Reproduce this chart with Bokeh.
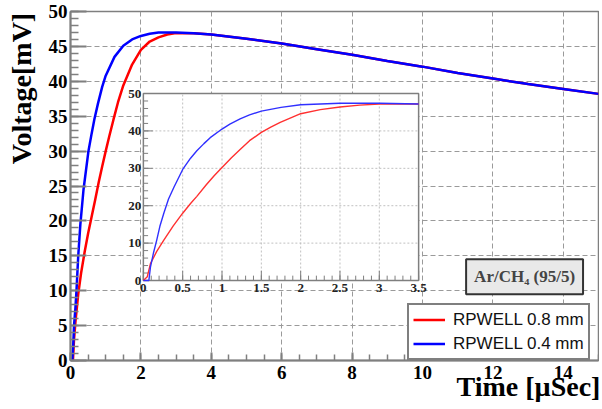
import numpy as np
from bokeh.plotting import figure
from bokeh.models import Range1d, Label, Legend, LegendItem, FixedTicker, LinearAxis
from bokeh.core.properties import value
from bokeh.embed import file_html
from bokeh.resources import INLINE

# ---------------- data ----------------
t_red = [0, 0.07, 0.10, 0.14, 0.22, 0.30, 0.40, 0.50, 0.60, 0.70, 0.80, 0.90,
         1.0, 1.1, 1.22, 1.35, 1.5, 1.75, 2.0, 2.25, 2.5, 2.75, 3.0, 3.5, 4, 5, 6, 7, 8, 9,
         10, 11, 12, 13, 14, 15]
v_red = [0, 0, 3, 5.5, 9.5, 12.5, 15.5, 18.2, 20.6, 23, 25.5, 27.8,
         30, 32.1, 34.5, 37, 39.4, 42.4, 44.5, 45.7, 46.3, 46.7, 46.9, 46.9, 46.7, 46.1, 45.4,
         44.6, 43.8, 42.9, 42.1, 41.2, 40.4, 39.6, 38.9, 38.2]

t_blue = [0, 0.05, 0.08, 0.10, 0.14, 0.17, 0.22, 0.28, 0.37, 0.51, 0.60, 0.68, 0.78, 0.90,
          1.0, 1.25, 1.5, 1.75, 2.0, 2.25, 2.5, 2.75, 3.0, 3.5, 4, 5, 6, 7, 8, 9,
          10, 11, 12, 13, 14, 15]
v_blue = [0, 0, 2.5, 5, 7.5, 10, 15, 19.5, 24.5, 30, 32.5, 34.6, 36.8, 39.2,
          40.8, 43.5, 45.1, 46.0, 46.5, 46.8, 47.0, 47.0, 47.0, 46.9, 46.7, 46.1, 45.4,
          44.6, 43.8, 42.9, 42.1, 41.2, 40.4, 39.6, 38.9, 38.2]

# inset (zoom on first 3.5 us)
ti_blue = [0, 0.07, 0.09, 0.13, 0.17, 0.21, 0.26, 0.32, 0.39, 0.5, 0.6, 0.68, 0.77, 0.85,
           1.0, 1.1, 1.23, 1.35, 1.5, 1.75, 2.0, 2.25, 2.5, 3.0, 3.5]
vi_blue = [0, 0, 3.6, 7.5, 10.8, 14.5, 18, 21.8, 25, 29.7, 32.7, 34.7, 36.6, 38.2,
           40.5, 41.8, 43.2, 44.3, 45.3, 46.3, 47.0, 47.2, 47.4, 47.4, 47.2]
ti_red = [0, 0.05, 0.09, 0.17, 0.26, 0.38, 0.5, 0.6, 0.68, 0.8, 0.9, 1.0, 1.12, 1.23,
          1.35, 1.5, 1.62, 1.74, 2.0, 2.25, 2.5, 2.75, 3.0, 3.5]
vi_red = [0, 1, 4.5, 7.8, 10.8, 14.6, 18, 20.6, 22.5, 25.6, 28, 30.2, 32.8, 35,
          37.4, 39.6, 41.0, 42.3, 44.6, 45.7, 46.4, 46.9, 47.2, 47.2]

x_ticks = [0, 2, 4, 6, 8, 10, 12, 14]
y_ticks = [0, 5, 10, 15, 20, 25, 30, 35, 40, 45, 50]
xi_ticks = [0, 0.5, 1, 1.5, 2, 2.5, 3, 3.5]
xi_labels = ["0", "0.5", "1", "1.5", "2", "2.5", "3", "3.5"]
yi_ticks = [0, 10, 20, 30, 40, 50]
yi_labels = ["0", "10", "20", "30", "40", "50"]

labels = ["RPWELL 0.8 mm", "RPWELL 0.4 mm"]
gas_text = "Ar/CH\u2084 (95/5)"
x_title = "Time [\u00b5Sec]"
y_title = "Voltage[mV]"

SERIF = "Liberation Serif"
SANS = "Liberation Sans"
AXIS_GREY = "#7f7f7f"
GRID_GREY = "#9a9a9a"
NBSP = "\u00a0"

# ---------------- main figure ----------------
p = figure(width=599, height=408, x_range=Range1d(0, 15), y_range=Range1d(0, 50),
           output_backend="svg", toolbar_location=None,
           min_border_left=70, min_border_right=1, min_border_top=11, min_border_bottom=48)
p.outline_line_color = AXIS_GREY
p.outline_line_width = 1.5
p.background_fill_color = "white"
p.border_fill_color = "white"

p.xaxis.ticker = FixedTicker(ticks=x_ticks, minor_ticks=list(np.arange(0, 15.01, 0.5)))
p.yaxis.ticker = FixedTicker(ticks=y_ticks, minor_ticks=list(np.arange(0, 50.01, 1.0)))
for ax in (p.xaxis[0], p.yaxis[0]):
    ax.axis_line_color = AXIS_GREY
    ax.axis_line_width = 2
    ax.major_tick_line_color = AXIS_GREY
    ax.minor_tick_line_color = AXIS_GREY
    ax.major_tick_line_width = 2
    ax.minor_tick_line_width = 1.5
    ax.major_tick_out = 0
    ax.minor_tick_out = 0
    ax.major_label_text_font = SERIF
    ax.major_label_text_font_style = "bold"
    ax.major_label_text_font_size = "19px"
    ax.major_label_text_color = "black"
p.yaxis.major_tick_in = 16
p.yaxis.minor_tick_in = 8
p.xaxis.major_tick_in = 8
p.xaxis.minor_tick_in = 6
p.yaxis.major_label_standoff = 3
p.xaxis.major_label_standoff = 5


# title-only axes; label centred on the axis end, padded with no-break spaces
# so that the visible text ends at the end of the axis (ROOT-style titles)
def title_axis(text, size, standoff, pad):
    return LinearAxis(ticker=FixedTicker(ticks=[]),
                      axis_line_color=None, major_tick_line_color=None,
                      minor_tick_line_color=None, major_tick_out=0, minor_tick_out=0,
                      major_tick_in=0, minor_tick_in=0,
                      axis_label=text + NBSP * pad, axis_label_align="end",
                      axis_label_text_font=SERIF,
                      axis_label_text_font_style="bold", axis_label_text_font_size=size,
                      axis_label_text_color="black", axis_label_standoff=standoff)


p.add_layout(title_axis(y_title, "28px", 9, 22), "left")
p.add_layout(title_axis(x_title, "28px", -11, 20), "below")

p.xgrid.ticker = FixedTicker(ticks=x_ticks[1:])
p.ygrid.ticker = FixedTicker(ticks=y_ticks[1:-1])
for g in (p.xgrid[0], p.ygrid[0]):
    g.grid_line_color = GRID_GREY
    g.grid_line_dash = "5 3"
    g.grid_line_width = 1

r_red = p.line(t_red, v_red, line_color="#ff0000", line_width=2.5)
r_blue = p.line(t_blue, v_blue, line_color="#0000ff", line_width=2.5)

# ---------------- inset (sub-coordinates inside the main frame) ----------------
xi_range = Range1d(0, 3.5)
yi_range = Range1d(0, 50)
sub = p.subplot(x_source=xi_range, y_source=yi_range,
                x_target=Range1d(2.07, 9.89), y_target=Range1d(11.46, 38.25))
sub.quad(left=[xi_range.start], right=[xi_range.end], bottom=[yi_range.start], top=[yi_range.end],
         fill_color="white", line_color=AXIS_GREY, line_width=1.5)
gx = xi_ticks[1:-1]
gy = yi_ticks[1:-1]
sub.segment(x0=gx, x1=gx, y0=[yi_range.start] * len(gx), y1=[yi_range.end] * len(gx),
            line_color="#c0c0c0", line_dash="2 2", line_width=1)
sub.segment(x0=[xi_range.start] * len(gy), x1=[xi_range.end] * len(gy), y0=gy, y1=gy,
            line_color="#c0c0c0", line_dash="2 2", line_width=1)
xmin_i = list(np.arange(0, 3.501, 0.1))
ymin_i = list(np.arange(0, 50.01, 2.0))
sub.segment(x0=xmin_i, x1=xmin_i, y0=[0] * len(xmin_i), y1=[1.3] * len(xmin_i),
            line_color=AXIS_GREY, line_width=1)
sub.segment(x0=xi_ticks, x1=xi_ticks, y0=[0] * len(xi_ticks), y1=[2.6] * len(xi_ticks),
            line_color=AXIS_GREY, line_width=1)
sub.segment(x0=[0] * len(ymin_i), x1=[0.06] * len(ymin_i), y0=ymin_i, y1=ymin_i,
            line_color=AXIS_GREY, line_width=1)
sub.segment(x0=[0] * len(yi_ticks), x1=[0.12] * len(yi_ticks), y0=yi_ticks, y1=yi_ticks,
            line_color=AXIS_GREY, line_width=1)
sub.line(ti_red, vi_red, line_color="#ff3030", line_width=1.4)
sub.line(ti_blue, vi_blue, line_color="#3030ff", line_width=1.4)
sub.text(x=xi_ticks, y=[0] * len(xi_ticks), text=xi_labels, y_offset=3,
         text_align="center", text_baseline="top", text_font=value(SERIF),
         text_font_style="bold", text_font_size="13px", text_color="#222222")
sub.text(x=[0] * len(yi_ticks), y=yi_ticks, text=yi_labels, x_offset=-2,
         text_align="right", text_baseline="middle", text_font=value(SERIF),
         text_font_style="bold", text_font_size="13px", text_color="#222222")

# ---------------- legend ----------------
legend = Legend(items=[LegendItem(label=labels[0], renderers=[r_red]),
                       LegendItem(label=labels[1], renderers=[r_blue])],
                location=(337, 0), orientation="vertical",
                label_text_font=SANS, label_text_font_size="17px", label_text_color="#111111",
                glyph_width=32, glyph_height=21, label_height=21, label_standoff=8,
                spacing=3, padding=4, margin=0,
                border_line_color="black", border_line_width=2,
                background_fill_color="white", background_fill_alpha=1.0)
p.add_layout(legend)

# gas label box
p.add_layout(Label(x=12.9, y=12.0, text=gas_text, text_align="center", text_baseline="middle",
                   text_font=SERIF, text_font_style="bold", text_font_size="17px",
                   background_fill_color="#e9e9e9", border_line_color="#333333",
                   border_line_width=2, padding=(8, 8)))

open("out.html", "w").write(file_html(p, INLINE))
